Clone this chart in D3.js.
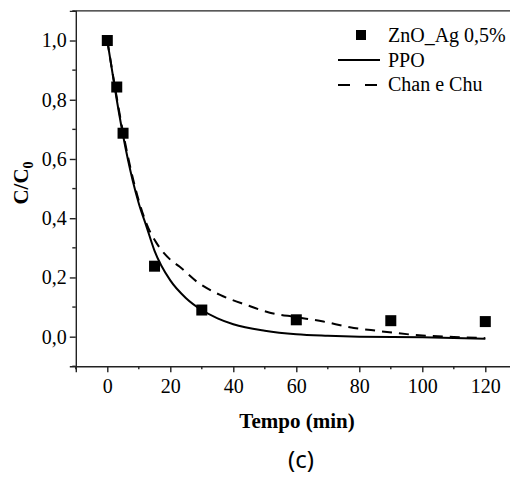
<!DOCTYPE html>
<html>
<head>
<meta charset="utf-8">
<script src="https://cdn.jsdelivr.net/npm/d3@7"></script>
</head>
<body style="margin:0;background:#fff">
<div id="chart"></div>
<script>
// measured points (Tempo in min, C/C0)
var tempo = [0, 3, 5, 15, 30, 60, 90, 120];
var conc = [1.0, 0.843, 0.687, 0.238, 0.09, 0.057, 0.054, 0.051];

// PPO fit curve
var ppoT = [0, 3, 5, 8, 10, 12.5, 15, 20, 25, 30, 35, 40, 50, 60, 70, 80, 100, 120];
var ppoY = [1.0, 0.80, 0.68, 0.53, 0.45, 0.37, 0.29, 0.19, 0.13, 0.09, 0.062, 0.042, 0.02, 0.008, 0.003, 0.0, -0.002, -0.007];

// Chan e Chu fit curve
var chanT = [0, 2, 5, 8, 12.5, 15.7, 20, 23, 28.4, 35.8, 44.2, 51.6, 60, 68.6, 77, 85.5, 100, 110, 120];
var chanY = [1.0, 0.87, 0.69, 0.54, 0.38, 0.315, 0.26, 0.236, 0.186, 0.141, 0.107, 0.081, 0.066, 0.051, 0.032, 0.02, 0.004, -0.001, -0.005];

var xTicks = [0, 20, 40, 60, 80, 100, 120];
var yTicks = [0, 0.2, 0.4, 0.6, 0.8, 1.0];
var legendNames = ["ZnO_Ag 0,5%", "PPO", "Chan e Chu"];

var serif = "Liberation Serif";
var width = 510, height = 481;
var svg = d3.select("#chart").append("svg")
  .attr("width", width)
  .attr("height", height);

var x = d3.scaleLinear().domain([-10, 130]).range([75.8, 516.8]);
var y = d3.scaleLinear().domain([-0.1, 1.1]).range([366.3, 10.9]);

var fmt = function(d) { return d3.format(".1f")(d).replace(".", ","); };

// frame (top and right; right falls outside the picture)
svg.append("line")
  .attr("x1", x(-10)).attr("x2", x(130))
  .attr("y1", y(1.1)).attr("y2", y(1.1))
  .style("stroke", "#222").style("stroke-width", 1.4);
svg.append("line")
  .attr("x1", x(130)).attr("x2", x(130))
  .attr("y1", y(1.1)).attr("y2", y(-0.1))
  .style("stroke", "#222").style("stroke-width", 1.4);

// x axis
var xMinor = d3.range(-10, 131, 10).filter(function(d) { return xTicks.indexOf(d) < 0; });
var xg = svg.append("g").attr("transform", "translate(0," + y(-0.1) + ")");
xg.call(d3.axisBottom(x).tickValues(xTicks).tickSize(6).tickPadding(7).tickFormat(d3.format("d")));
xg.selectAll(".minor").data(xMinor).enter().append("line")
  .attr("x1", function(d) { return x(d); }).attr("x2", function(d) { return x(d); })
  .attr("y1", 0).attr("y2", 3)
  .style("stroke", "#222").style("stroke-width", 1.4);

// y axis
var yMinor = [-0.1, 0.1, 0.3, 0.5, 0.7, 0.9, 1.1];
var yg = svg.append("g").attr("transform", "translate(" + x(-10) + ",0)");
yg.call(d3.axisLeft(y).tickValues(yTicks).tickSize(6).tickPadding(3).tickFormat(fmt));
yg.selectAll(".minor").data(yMinor).enter().append("line")
  .attr("x1", 0).attr("x2", -3.5)
  .attr("y1", function(d) { return y(d); }).attr("y2", function(d) { return y(d); })
  .style("stroke", "#222").style("stroke-width", 1.4);

svg.selectAll(".domain").style("stroke", "#222").style("stroke-width", 1.4);
svg.selectAll(".tick line").style("stroke", "#222").style("stroke-width", 1.4);
svg.selectAll(".tick text")
  .attr("font-family", serif).attr("font-size", 20).attr("fill", "#000");

// curves
var line = d3.line()
  .x(function(d) { return x(d[0]); })
  .y(function(d) { return y(d[1]); })
  .curve(d3.curveMonotoneX);

svg.append("path")
  .datum(d3.zip(chanT, chanY))
  .attr("d", line)
  .style("fill", "none").style("stroke", "#000").style("stroke-width", 2)
  .style("stroke-dasharray", "10,7");

svg.append("path")
  .datum(d3.zip(ppoT, ppoY))
  .attr("d", line)
  .style("fill", "none").style("stroke", "#000").style("stroke-width", 2);

// points
var sq = 11;
svg.selectAll(".pt").data(d3.zip(tempo, conc)).enter().append("rect")
  .attr("x", function(d) { return x(d[0]) - sq / 2; })
  .attr("y", function(d) { return y(d[1]) - sq / 2; })
  .attr("width", sq).attr("height", sq)
  .style("fill", "#000");

// legend
var lg = svg.append("g");
lg.append("rect").attr("x", 356).attr("y", 30).attr("width", 10).attr("height", 10).style("fill", "#000");
lg.append("line").attr("x1", 338).attr("x2", 380).attr("y1", 60).attr("y2", 60)
  .style("stroke", "#000").style("stroke-width", 2);
lg.append("line").attr("x1", 338).attr("x2", 380).attr("y1", 85).attr("y2", 85)
  .style("stroke", "#000").style("stroke-width", 2).style("stroke-dasharray", "12,15");
lg.selectAll("text").data(legendNames).enter().append("text")
  .attr("x", 388)
  .attr("y", function(d, i) { return 42 + i * 24.5; })
  .attr("font-family", serif).attr("font-size", 20)
  .text(function(d) { return d; });

// axis titles
svg.append("text")
  .attr("transform", "translate(28,183) rotate(-90)")
  .attr("text-anchor", "middle")
  .attr("font-family", serif).attr("font-size", 21).attr("font-weight", "bold")
  .html('C/C<tspan dy="5" font-size="14">0</tspan>');

svg.append("text")
  .attr("x", 297).attr("y", 428)
  .attr("text-anchor", "middle")
  .attr("font-family", serif).attr("font-size", 21).attr("font-weight", "bold")
  .text("Tempo (min)");

svg.append("text")
  .attr("x", 301).attr("y", 468)
  .attr("text-anchor", "middle")
  .attr("font-family", "Noto Sans").attr("font-size", 24)
  .text("(c)");
</script>
</body>
</html>
